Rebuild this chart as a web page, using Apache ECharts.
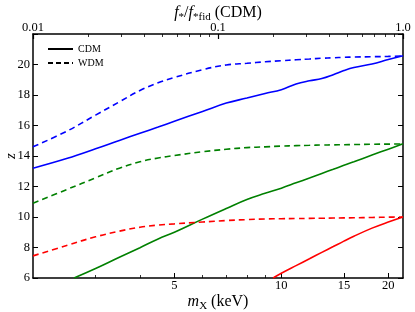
<!DOCTYPE html>
<html><head><meta charset="utf-8">
<script src="https://cdn.jsdelivr.net/npm/echarts@6/dist/echarts.min.js"></script>
<style>html,body{margin:0;padding:0;background:#fff}#c{width:415px;height:312px}</style>
</head><body><div id="c"></div>
<script>
// m_X grid (keV)
const mX = [2, 2.5, 3, 3.5, 4, 4.5, 5, 6, 7, 8, 9, 10, 11, 12, 13, 14, 15, 16, 18, 20, 22];
const blueCDM = [13.2, 13.85, 14.47, 15.02, 15.49, 15.9, 16.28, 16.92, 17.47, 17.8, 18.1, 18.35, 18.72, 18.93, 19.08, 19.33, 19.6, 19.8, 20.03, 20.33, 20.58];
const blueWDM = [14.6, 15.65, 16.68, 17.55, 18.3, 18.8, 19.15, 19.66, 19.97, 20.08, 20.18, 20.25, 20.31, 20.36, 20.41, 20.44, 20.47, 20.49, 20.51, 20.53, 20.56];
const greenWDM = [10.9, 11.82, 12.57, 13.2, 13.62, 13.87, 14.03, 14.28, 14.44, 14.55, 14.6, 14.65, 14.68, 14.7, 14.72, 14.73, 14.74, 14.75, 14.77, 14.78, 14.79];
const redWDM = [7.45, 8.15, 8.7, 9.07, 9.33, 9.47, 9.55, 9.67, 9.77, 9.83, 9.87, 9.89, 9.9, 9.91, 9.92, 9.93, 9.94, 9.95, 9.97, 9.99, 10.0];
const mGreen = [2.61, 3, 3.5, 4, 4.5, 5, 6, 7, 8, 9, 10, 11, 12, 13, 14, 15, 16, 18, 20, 22];
const greenCDM = [6, 6.62, 7.36, 7.99, 8.56, 9.0, 9.86, 10.56, 11.15, 11.55, 11.89, 12.24, 12.56, 12.86, 13.13, 13.39, 13.62, 14.06, 14.45, 14.8];
const mRed = [9.48, 10, 11, 12, 13, 14, 15, 16, 18, 20, 22];
const redCDM = [6, 6.31, 6.81, 7.26, 7.68, 8.06, 8.42, 8.74, 9.27, 9.67, 10.0];

// tick values
const bottomMajor = [5, 10, 15, 20];
const bottomMinor = [3, 4, 6, 7, 8, 9];
const topMajor = [0.01, 0.1, 1.0];
const topLabels = ['0.01', '0.1', '1.0'];
const topMinor = [0.02,0.03,0.04,0.05,0.06,0.07,0.08,0.09,0.2,0.3,0.4,0.5,0.6,0.7,0.8,0.9];

const FF = 'Liberation Serif';
const BLUE = '#0000ff', GREEN = '#008000', RED = '#ff0000';
const axisLineStyle = {color: '#000', width: 1.5};
const lg = Math.log10;

function pairs(xs, ys) { return xs.map((m, i) => [m, ys[i]]); }
function line(name, xs, ys, color, dashed) {
  return {
    name: name, type: 'line', xAxisIndex: 0, yAxisIndex: 0,
    data: pairs(xs, ys), symbol: 'none', showSymbol: false,
    smooth: 0.4, silent: true,
    lineStyle: {color: color, width: 1.6, type: dashed ? [6, 4] : 'solid'},
    itemStyle: {color: color}, z: 3
  };
}
const titleRich = {
  i: {fontFamily: FF, fontStyle: 'italic', fontSize: 16, lineHeight: 20},
  s: {fontFamily: FF, fontSize: 11, lineHeight: 13, verticalAlign: 'bottom'}
};

const chart = echarts.init(document.getElementById('c'), null, {renderer: 'canvas'});
chart.setOption({
  animation: false,
  backgroundColor: '#fff',
  grid: {left: 33, right: 12, top: 34, bottom: 34, containLabel: false, outerBoundsMode: 'none'},
  legend: {
    data: ['CDM', 'WDM'], orient: 'vertical', left: 47, top: 44, padding: 0,
    itemWidth: 25, itemHeight: 10, itemGap: 4,
    itemStyle: {opacity: 0},
    textStyle: {fontFamily: FF, fontSize: 10, lineHeight: 10, color: '#000'}
  },
  xAxis: [
    {type: 'log', logBase: 10, min: 2, max: 22, position: 'bottom',
     axisLine: {show: false}, axisTick: {show: false}, axisLabel: {show: false},
     splitLine: {show: false}, minorTick: {show: false}},
    {type: 'value', min: lg(2), max: lg(22), position: 'bottom',
     axisLine: {show: true, onZero: false, lineStyle: axisLineStyle},
     axisTick: {inside: true, length: 5, customValues: bottomMajor.map(lg), lineStyle: {color: '#000', width: 1}},
     axisLabel: {customValues: bottomMajor.map(lg), formatter: v => String(Math.round(Math.pow(10, v))),
                 fontFamily: FF, fontSize: 12.5, color: '#000', margin: 1},
     splitLine: {show: false},
     name: '{i|m}{s|X} (keV)', nameLocation: 'middle', nameGap: 14, nameMoveOverlap: false,
     nameTextStyle: {fontFamily: FF, fontSize: 16, color: '#000', lineHeight: 20, rich: titleRich}},
    {type: 'value', min: lg(2), max: lg(22), position: 'bottom',
     axisLine: {show: false, onZero: false},
     axisTick: {inside: true, length: 3, customValues: bottomMinor.map(lg), lineStyle: {color: '#000', width: 0.8}},
     axisLabel: {show: false}, splitLine: {show: false}},
    {type: 'value', min: -2, max: 0, position: 'top',
     axisLine: {show: true, onZero: false, lineStyle: axisLineStyle},
     axisTick: {inside: true, length: 5, customValues: topMajor.map(lg), lineStyle: {color: '#000', width: 1.2}},
     axisLabel: {customValues: topMajor.map(lg), formatter: v => topLabels[Math.round(v) + 2],
                 fontFamily: FF, fontSize: 12.5, color: '#000', margin: 0},
     splitLine: {show: false},
     name: '{i|f}{s|*}/{i|f}{s|*fid} (CDM)', nameLocation: 'middle', nameGap: 11, nameMoveOverlap: false,
     nameTextStyle: {fontFamily: FF, fontSize: 16, color: '#000', lineHeight: 20, rich: titleRich}},
    {type: 'value', min: -2, max: 0, position: 'top',
     axisLine: {show: false, onZero: false},
     axisTick: {inside: true, length: 3, customValues: topMinor.map(lg), lineStyle: {color: '#000', width: 0.8}},
     axisLabel: {show: false}, splitLine: {show: false}}
  ],
  yAxis: [
    {type: 'value', min: 6, max: 22, interval: 2, position: 'left',
     axisLine: {show: true, onZero: false, lineStyle: axisLineStyle},
     axisTick: {inside: true, length: 5, lineStyle: {color: '#000', width: 1}},
     axisLabel: {formatter: v => (v === 22 ? '' : String(v)), fontFamily: FF, fontSize: 12.5, color: '#000', margin: 3},
     splitLine: {show: false},
     name: 'z', nameLocation: 'middle', nameGap: 14, nameMoveOverlap: false,
     nameTextStyle: {fontFamily: FF, fontStyle: 'italic', fontSize: 15, color: '#000'}},
    {type: 'value', min: 6, max: 22, interval: 2, position: 'right',
     axisLine: {show: true, onZero: false, lineStyle: axisLineStyle},
     axisTick: {inside: true, length: 5, lineStyle: {color: '#000', width: 1}},
     axisLabel: {show: false}, splitLine: {show: false}}
  ],
  series: [
    {name: 'CDM', type: 'line', data: [], symbol: 'none', lineStyle: {color: '#000', width: 1.6}, itemStyle: {color: '#000'}},
    {name: 'WDM', type: 'line', data: [], symbol: 'none', lineStyle: {color: '#000', width: 1.6, type: [5, 3]}, itemStyle: {color: '#000'}},
    line('blue CDM', mX, blueCDM, BLUE, false),
    line('blue WDM', mX, blueWDM, BLUE, true),
    line('green CDM', mGreen, greenCDM, GREEN, false),
    line('green WDM', mX, greenWDM, GREEN, true),
    line('red CDM', mRed, redCDM, RED, false),
    line('red WDM', mX, redWDM, RED, true)
  ]
});
</script></body></html>
